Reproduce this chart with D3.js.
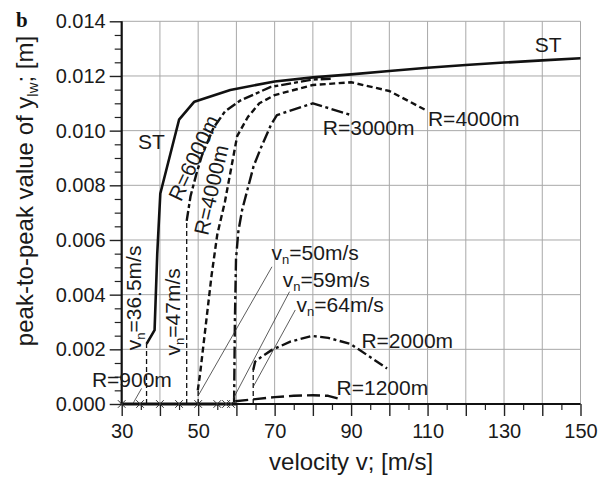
<!DOCTYPE html>
<html>
<head>
<meta charset="utf-8">
<script src="https://cdn.jsdelivr.net/npm/d3@7"></script>
<style>
  html, body { margin: 0; padding: 0; background: #fff; }
  svg { display: block; font-family: "Liberation Sans", Arial, sans-serif; }
</style>
</head>
<body>
<svg id="chart" width="610" height="482"></svg>
<script>
// Peak-to-peak lateral displacement y_lw versus running velocity for several curve radii

const xTickLabels = [30, 50, 70, 90, 110, 130, 150];
const yTickLabels = [0, 0.002, 0.004, 0.006, 0.008, 0.010, 0.012, 0.014];

// straight track (ST)
const stV = [36.5, 38.6, 39.3, 40.1, 45, 49, 58.4, 70, 80, 90, 100, 110, 120, 130, 140, 150];
const stY = [0.0022, 0.0027, 0.0055, 0.0077, 0.0104, 0.01106, 0.01149, 0.0118, 0.01195, 0.01206, 0.01218, 0.0123, 0.0124, 0.01249, 0.01257, 0.01265];

// R = 6000 m
const r6000V = [47, 48, 49.5, 51, 54, 57, 61, 69, 80, 85];
const r6000Y = [0.0067, 0.0076, 0.0084, 0.0091, 0.0101, 0.0107, 0.0111, 0.0116, 0.01187, 0.0119];

// R = 4000 m
const r4000V = [49.9, 50.5, 51.5, 52.5, 53.5, 55, 57, 59, 60.2, 63, 66, 70, 80, 90, 100, 109.4];
const r4000Y = [0.0005, 0.0011, 0.0023, 0.0035, 0.0047, 0.0062, 0.0074, 0.0089, 0.0098, 0.0105, 0.0110, 0.0113, 0.01167, 0.01177, 0.01145, 0.01076];

// R = 3000 m
const r3000V = [59.4, 59.6, 59.9, 60.5, 61.5, 63, 64.5, 66.5, 69, 70.6, 80, 90];
const r3000Y = [0.00005, 0.003, 0.0053, 0.0063, 0.0071, 0.0079, 0.0087, 0.0094, 0.0102, 0.01057, 0.0110, 0.01057];

// R = 2000 m
const r2000V = [64.4, 64.9, 66.6, 69.3, 74.1, 79.7, 84, 89.8, 94.1, 99.4];
const r2000Y = [0.00124, 0.00155, 0.00173, 0.00198, 0.00228, 0.00249, 0.00242, 0.0022, 0.0018, 0.0013];

// R = 1200 m
const r1200V = [59.7, 65, 70, 75, 80, 84, 87.2];
const r1200Y = [0.0001, 0.00018, 0.00025, 0.0003, 0.00032, 0.0003, 0.00018];

// R = 900 m: stable (zero amplitude) computed points
const r900V = [30, 34.8, 40, 45, 50, 55, 57.3, 58.6];
const r900Y = [0, 0, 0, 0, 0, 0, 0, 0];

// critical (nonlinear) velocities v_n and the amplitude where each branch starts
const vnV = [36.5, 47, 50, 64.4];
const vnY = [0.0022, 0.0067, 0.0005, 0.00124];

const W = 610, H = 482;
const svg = d3.select("#chart");

const x = d3.scaleLinear().domain([30, 150]).range([121.7, 580.5]);
const y = d3.scaleLinear().domain([0, 0.014]).range([404, 21.3]);

const gridColor = "#a8a8a8";
const ink = "#111";

// grid
const grid = svg.append("g");
grid.selectAll("line.vg").data(d3.range(40, 151, 10)).join("line")
  .attr("x1", d => x(d)).attr("x2", d => x(d))
  .attr("y1", y(0)).attr("y2", y(0.014))
  .attr("stroke", gridColor).attr("stroke-width", 1);
grid.selectAll("line.hg").data(d3.range(1, 8).map(i => i * 0.002)).join("line")
  .attr("x1", x(30)).attr("x2", x(150))
  .attr("y1", d => y(d)).attr("y2", d => y(d))
  .attr("stroke", gridColor).attr("stroke-width", 1);

// axes
const xAxisMajor = d3.axisBottom(x).tickValues(d3.range(30, 151, 10))
  .tickSize(12).tickFormat(d => xTickLabels.includes(d) ? d : "");
const gx = svg.append("g").attr("transform", `translate(0,${y(0)})`).call(xAxisMajor);
gx.select(".domain").remove();
gx.selectAll(".tick line").attr("stroke", "#222").attr("stroke-width", 1.4);
gx.selectAll(".tick text").attr("font-size", 20).attr("fill", "#1a1a1a")
  .attr("font-family", "Liberation Sans, Arial, sans-serif").attr("dy", "0.98em").attr("y", 14);
const gxMinor = svg.append("g").attr("transform", `translate(0,${y(0)})`)
  .call(d3.axisBottom(x).tickValues(d3.range(35, 150, 10)).tickSize(6).tickFormat(""));
gxMinor.select(".domain").remove();
gxMinor.selectAll(".tick line").attr("stroke", "#222").attr("stroke-width", 1.2);

const yAxisMajor = d3.axisLeft(y).tickValues(yTickLabels).tickSize(12).tickFormat(d3.format(".3f"));
const gy = svg.append("g").attr("transform", `translate(${x(30)},0)`).call(yAxisMajor);
gy.select(".domain").remove();
gy.selectAll(".tick line").attr("stroke", "#222").attr("stroke-width", 1.4);
gy.selectAll(".tick text").attr("font-size", 20).attr("fill", "#1a1a1a")
  .attr("font-family", "Liberation Sans, Arial, sans-serif").attr("x", -16);
const gyMinor = svg.append("g").attr("transform", `translate(${x(30)},0)`)
  .call(d3.axisLeft(y).tickValues(d3.range(0, 29).map(i => i * 0.0005).filter((d, i) => i % 4 !== 0)).tickSize(7).tickFormat(""));
gyMinor.select(".domain").remove();
gyMinor.selectAll(".tick line").attr("stroke", "#222").attr("stroke-width", 1.2);

// axis lines
svg.append("line").attr("x1", x(30)).attr("x2", x(30)).attr("y1", y(0.014)).attr("y2", y(0) + 1)
  .attr("stroke", "#111").attr("stroke-width", 2.2);
svg.append("line").attr("x1", x(30) - 1).attr("x2", x(150)).attr("y1", y(0)).attr("y2", y(0))
  .attr("stroke", "#111").attr("stroke-width", 2);

// axis titles
svg.append("text")
  .attr("x", x(90)).attr("y", 470)
  .attr("text-anchor", "middle").attr("font-size", 24).attr("fill", "#1a1a1a")
  .text("velocity v; [m/s]");

const yTitle = svg.append("text")
  .attr("transform", `translate(33,${191}) rotate(-90)`)
  .attr("text-anchor", "middle").attr("font-size", 24).attr("fill", "#1a1a1a");
yTitle.append("tspan").text("peak-to-peak value of y");
yTitle.append("tspan").attr("font-size", 15).attr("dy", 5).text("lw");
yTitle.append("tspan").attr("dy", -5).text("; [m]");

svg.append("text").attr("x", 16).attr("y", 27)
  .attr("font-family", "Liberation Serif, Times New Roman, serif").attr("font-weight", "bold")
  .attr("font-size", 21).attr("fill", "#111").text("b");

// helpers
const zip = (vs, ys) => vs.map((v, i) => [v, ys[i]]);
const line = d3.line().x(d => x(d[0])).y(d => y(d[1]));

// thin dashed verticals at the critical velocities
svg.append("g").selectAll("line").data(zip(vnV, vnY)).join("line")
  .attr("x1", d => x(d[0])).attr("x2", d => x(d[0]))
  .attr("y1", y(0)).attr("y2", d => y(d[1]))
  .attr("stroke", ink).attr("stroke-width", 1.3).attr("stroke-dasharray", "5,3");

// R = 900 m zero branch
svg.append("path").attr("d", line([[30, 0], [60, 0]]))
  .attr("fill", "none").attr("stroke", ink).attr("stroke-width", 3);
const markers = svg.append("g");
zip(r900V, r900Y).forEach(d => {
  const cx = x(d[0]), cy = y(d[1]), s = 3.8;
  markers.append("path")
    .attr("d", `M${cx - s},${cy - s}L${cx + s},${cy + s}M${cx - s},${cy + s}L${cx + s},${cy - s}`)
    .attr("stroke", "#333").attr("stroke-width", 1).attr("fill", "none");
});

// curves
const series = [
  { v: stV, y: stY, dash: null, w: 2.6 },
  { v: r6000V, y: r6000Y, dash: "10,3,4,3", w: 2.4 },
  { v: r4000V, y: r4000Y, dash: "6,3.5", w: 2.4 },
  { v: r3000V, y: r3000Y, dash: "12,3.5,3,3.5", w: 2.4 },
  { v: r2000V, y: r2000Y, dash: "10,3.5,3,3.5", w: 2.4 },
  { v: r1200V, y: r1200Y, dash: "13,5", w: 2.4 }
];
svg.append("g").selectAll("path").data(series).join("path")
  .attr("d", s => line(zip(s.v, s.y)))
  .attr("fill", "none").attr("stroke", ink)
  .attr("stroke-width", s => s.w)
  .attr("stroke-dasharray", s => s.dash)
  .attr("stroke-linejoin", "round");

// leader lines for the annotations
const leaders = [
  [[69.3, 0.00502], [50, 0.0003]],
  [[73.9, 0.00411], [59.2, 0.0002]],
  [[75.4, 0.00344], [64.4, 0.00063]],
  [[35.2, 0.00057], [33, 0.00003]]
];
svg.append("g").selectAll("path").data(leaders).join("path")
  .attr("d", d => line(d)).attr("stroke", "#333").attr("stroke-width", 0.8).attr("fill", "none");

// annotations
const labels = [
  { t: "ST", v: 138.05, val: 0.01288, a: 0 },
  { t: "ST", v: 34.26, val: 0.00933, a: 0 },
  { t: "R=3000m", v: 82.6, val: 0.00984, a: 0 },
  { t: "R=4000m", v: 110.1, val: 0.01017, a: 0 },
  { t: "R=2000m", v: 92.7, val: 0.00205, a: 0 },
  { t: "R=1200m", v: 86.2, val: 0.00033, a: 0 },
  { t: "R=900m", v: 22.2, val: 0.00063, a: 0 },
  { t: "R=6000m", v: 48.8, val: 0.0090, a: -65, mid: true },
  { t: "R=4000m", v: 53.4, val: 0.00783, a: -77, mid: true }
];
const gl = svg.append("g").attr("font-size", 21).attr("fill", "#1a1a1a");
labels.forEach(l => {
  const t = gl.append("text")
    .attr("transform", `translate(${x(l.v)},${y(l.val)}) rotate(${l.a})`)
    .attr("text-anchor", l.mid ? "middle" : "start")
    .text(l.t);
  if (l.mid) t.attr("dy", "0.35em");
});

const vnLabels = [
  { n: "36.5m/s", v: 35.0, val: 0.00388, a: -90 },
  { n: "47m/s", v: 45.2, val: 0.00337, a: -90 },
  { n: "50m/s", v: 69.2, val: 0.00528, a: 0 },
  { n: "59m/s", v: 72.1, val: 0.00427, a: 0 },
  { n: "64m/s", v: 75.75, val: 0.00336, a: 0 }
];
vnLabels.forEach(l => {
  const t = gl.append("text")
    .attr("transform", `translate(${x(l.v)},${y(l.val)}) rotate(${l.a})`)
    .attr("text-anchor", l.a ? "middle" : "start");
  t.append("tspan").text("v");
  t.append("tspan").attr("font-size", 13).attr("dy", 4).text("n");
  t.append("tspan").attr("dy", -4).text("=" + l.n);
});
</script>
</body>
</html>
